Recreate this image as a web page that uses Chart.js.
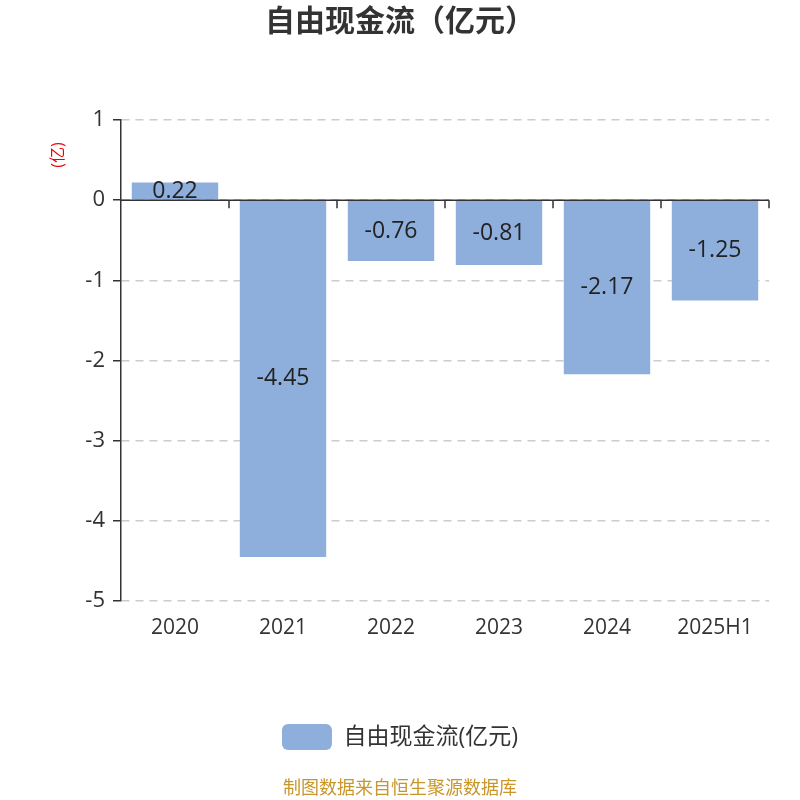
<!DOCTYPE html>
<html>
<head>
<meta charset="utf-8">
<script src="https://cdn.jsdelivr.net/npm/chart.js@4"></script>
<style>
  html, body { margin: 0; padding: 0; background: #fff; }
  #wrap { width: 800px; height: 800px; }
</style>
</head>
<body>
<div id="wrap"><canvas id="myChart"></canvas></div>
<script>
const categories = ["2020", "2021", "2022", "2023", "2024", "2025H1"];
const values = [0.22, -4.45, -0.76, -0.81, -2.17, -1.25];
const seriesName = "自由现金流(亿元)";
const titleText = "自由现金流（亿元）";
const unitText = "(亿)";
const sourceText = "制图数据来自恒生聚源数据库";

const FONT = "'Open Sans', 'Noto Sans CJK SC', sans-serif";

// x axis drawn at zero, value labels, unit and source text
const extras = {
  id: "extras",
  afterDatasetsDraw(chart) {
    const { ctx, scales, chartArea } = chart;
    const y = scales.y;
    const y0 = y.getPixelForValue(0);
    ctx.save();
    ctx.strokeStyle = "#333";
    ctx.lineWidth = 1.5;
    ctx.beginPath();
    ctx.moveTo(chartArea.left, y0);
    ctx.lineTo(chartArea.right, y0);
    const step = (chartArea.right - chartArea.left) / categories.length;
    for (let i = 1; i <= categories.length; i++) {
      const px = Math.round(chartArea.left + step * i);
      ctx.moveTo(px, y0);
      ctx.lineTo(px, y0 + 8);
    }
    ctx.stroke();

    const meta = chart.getDatasetMeta(0);
    ctx.fillStyle = "#222";
    ctx.font = "23px " + FONT;
    ctx.textAlign = "center";
    ctx.textBaseline = "middle";
    meta.data.forEach((bar, i) => {
      ctx.fillText(values[i].toFixed(2), bar.x, (bar.y + bar.base) / 2);
    });

    ctx.fillStyle = "#e00";
    ctx.font = "16px " + FONT;
    ctx.translate(58, 155);
    ctx.rotate(-Math.PI / 2);
    ctx.fillText(unitText, 0, 0);
    ctx.restore();

    ctx.save();
    ctx.fillStyle = "#c8962a";
    ctx.font = "18px " + FONT;
    ctx.textAlign = "center";
    ctx.textBaseline = "middle";
    ctx.fillText(sourceText, 400, 789);
    ctx.restore();
  }
};

const canvas = document.querySelector("canvas#myChart");
new Chart(canvas, {
  type: "bar",
  data: {
    labels: categories,
    datasets: [{
      label: seriesName,
      data: values,
      backgroundColor: "#8eaedb",
      borderWidth: 0,
      categoryPercentage: 1,
      barPercentage: 0.8,
    }],
  },
  options: {
    responsive: true,
    maintainAspectRatio: false,
    animation: false,
    layout: { padding: { left: 0, right: 0, top: 0, bottom: 40 } },
    plugins: {
      title: {
        display: true,
        text: titleText,
        color: "#333",
        font: { family: FONT, size: 30, weight: "bold" },
        padding: { top: 4, bottom: 80 },
      },
      legend: {
        position: "bottom",
        labels: {
          boxWidth: 50,
          boxHeight: 26,
          useBorderRadius: true,
          borderRadius: 6,
          color: "#333",
          font: { family: FONT, size: 23 },
          padding: 10,
        },
      },
      tooltip: { enabled: false },
    },
    scales: {
      x: {
        grid: { display: false },
        border: { display: false },
        ticks: { color: "#333", font: { family: FONT, size: 21 }, padding: 6 },
        afterFit: (s) => { s.height = 113; },
      },
      y: {
        min: -5,
        max: 1,
        ticks: { stepSize: 1, color: "#333", font: { family: FONT, size: 22 }, padding: 8 },
        grid: {
          color: "#ccc",
          lineWidth: 1.5,
          tickColor: "#333",
          tickLength: 8,
        },
        border: { display: true, color: "#333", width: 1.5, dash: [8, 6] },
        afterFit: (s) => { s.width = 121; },
      },
      // empty right-hand spacer so the plot ends at the same place as the reference
      yRight: {
        position: "right",
        display: true,
        grid: { display: false },
        border: { display: false },
        ticks: { display: false },
        afterFit: (s) => { s.width = 31; },
      },
    },
  },
  plugins: [extras],
});
</script>
</body>
</html>
